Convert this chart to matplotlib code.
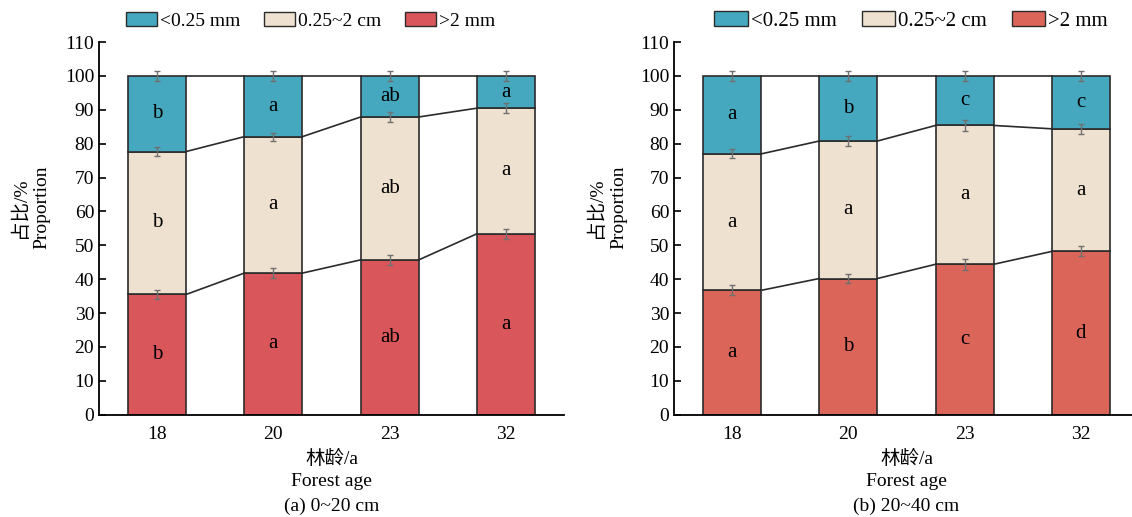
import matplotlib.pyplot as plt
from matplotlib.patches import Patch
import numpy as np

plt.rcParams['font.family'] = ['Liberation Serif', 'Noto Sans CJK SC']
plt.rcParams['font.size'] = 14

ages = ['18', '20', '23', '32']
series = ['>2 mm', '0.25~2 cm', '<0.25 mm']

# panel (a) 0~20 cm, proportions (%) bottom to top
a_big = [35.5, 41.8, 45.7, 53.4]
a_mid = [42.2, 40.3, 42.2, 37.1]
a_small = [22.3, 17.9, 12.1, 9.5]
a_err_big = [1.4, 1.5, 1.5, 1.4]
a_err_mid = [1.3, 1.2, 1.4, 1.5]
a_err_small = [1.4, 1.5, 1.4, 1.5]
a_let_big = ['b', 'a', 'ab', 'a']
a_let_mid = ['b', 'a', 'ab', 'a']
a_let_small = ['b', 'a', 'ab', 'a']

# panel (b) 20~40 cm
b_big = [36.7, 40.2, 44.4, 48.2]
b_mid = [40.3, 40.6, 41.0, 36.2]
b_small = [23.0, 19.2, 14.6, 15.6]
b_err_big = [1.5, 1.4, 1.6, 1.5]
b_err_mid = [1.3, 1.4, 1.5, 1.5]
b_err_small = [1.5, 1.6, 1.4, 1.5]
b_let_big = ['a', 'b', 'c', 'd']
b_let_mid = ['a', 'a', 'a', 'a']
b_let_small = ['a', 'b', 'c', 'c']

blue = '#45A8BF'
beige = '#EFE1D0'


def panel(ax, big, mid, small, errs, lets, red, caption, leg_x, leg_fs, ylab_x):
    x = np.arange(len(ages))
    w = 0.5
    layers = [big, mid, small]
    colors = [red, beige, blue]
    bottom = np.zeros(len(ages))
    for vals, col, err, let in zip(layers, colors, errs, lets):
        vals = np.array(vals)
        ax.bar(x, vals, w, bottom=bottom, color=col, edgecolor='#2b2b2b', linewidth=1.2, zorder=2)
        top = bottom + vals
        ax.errorbar(x, top, yerr=err, fmt='none', ecolor='#707070', elinewidth=1.0,
                    capsize=2.5, capthick=1.0, zorder=4)
        # connectors between neighbouring bars
        for i in range(len(x) - 1):
            ax.plot([x[i] + w / 2, x[i + 1] - w / 2], [top[i], top[i + 1]],
                    color='#2b2b2b', lw=1.2, zorder=3)
        for i in range(len(x)):
            ax.text(x[i], bottom[i] + vals[i] / 2, let[i], ha='center', va='center', fontsize=15, zorder=5)
        bottom = top
    ax.set_xlim(-0.5, 3.5)
    ax.set_ylim(0, 110)
    ax.set_yticks(np.arange(0, 111, 10))
    ax.set_xticks(x)
    ax.set_xticklabels(ages)
    ax.tick_params(axis='y', direction='in', length=5, width=1.2)
    ax.tick_params(axis='x', length=0, pad=8)
    for s in ['top', 'right']:
        ax.spines[s].set_visible(False)
    for s in ['left', 'bottom']:
        ax.spines[s].set_linewidth(1.3)
    ax.text(ylab_x, 0.556, '占比/%\nProportion', transform=ax.transAxes, rotation=90,
            ha='center', va='center', linespacing=1.35)
    ax.text(0.5, -0.12, '林龄/a', transform=ax.transAxes, ha='center', va='center')
    ax.text(0.5, -0.18, 'Forest age', transform=ax.transAxes, ha='center', va='center')
    ax.text(0.5, -0.246, caption, transform=ax.transAxes, ha='center', va='center')
    handles = [Patch(facecolor=blue, edgecolor='#2b2b2b'),
               Patch(facecolor=beige, edgecolor='#2b2b2b'),
               Patch(facecolor=red, edgecolor='#2b2b2b')]
    ax.legend(handles, series[::-1], loc='center', bbox_to_anchor=(leg_x, 1.057), ncol=3,
              frameon=False, handlelength=1.6, handleheight=0.7, handletextpad=0.15,
              columnspacing=1.2, borderaxespad=0.0, borderpad=0.0, fontsize=leg_fs)


fig = plt.figure(figsize=(11.32, 5.17), dpi=100)
ax1 = fig.add_axes([0.0875, 0.198, 0.4108, 0.7205])
ax2 = fig.add_axes([0.5954, 0.198, 0.4108, 0.7205])

panel(ax1, a_big, a_mid, a_small, [a_err_big, a_err_mid, a_err_small],
      [a_let_big, a_let_mid, a_let_small], '#D9575A', '(a) 0~20 cm', 0.455, 14, -0.148)
panel(ax2, b_big, b_mid, b_small, [b_err_big, b_err_mid, b_err_small],
      [b_let_big, b_let_mid, b_let_small], '#DC655A', '(b) 20~40 cm', 0.51, 15, -0.144)

fig.savefig('out.png', dpi=100)
